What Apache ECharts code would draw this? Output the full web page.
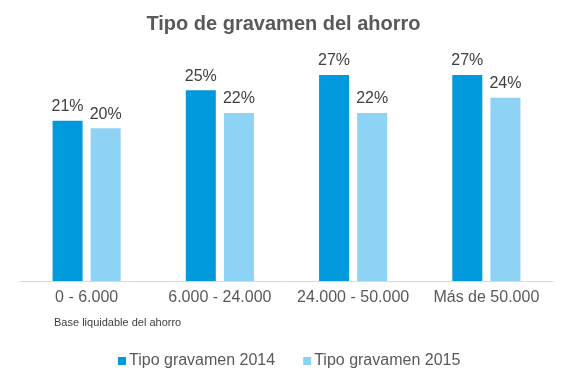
<!DOCTYPE html>
<html>
<head>
<meta charset="utf-8">
<script src="https://cdn.jsdelivr.net/npm/echarts@6/dist/echarts.min.js"></script>
<style>html,body{margin:0;padding:0;background:#fff;}#c{width:567px;height:379px;}</style>
</head>
<body>
<div id="c"></div>
<script>
var categories = ['0 - 6.000', '6.000 - 24.000', '24.000 - 50.000', 'Más de 50.000'];
var seriesNames = ['Tipo gravamen 2014', 'Tipo gravamen 2015'];
var values2014 = [21, 25, 27, 27];
var values2015 = [20, 22, 22, 24];

var chart = echarts.init(document.getElementById('c'));
var font = 'Liberation Sans, Arial, sans-serif';
chart.setOption({
  animation: false,
  backgroundColor: '#ffffff',
  title: [{
    text: 'Tipo de gravamen del ahorro',
    left: 'center',
    top: 9,
    textStyle: { fontFamily: font, fontSize: 20, fontWeight: 'bold', color: '#595959' }
  }, {
    text: 'Base liquidable del ahorro',
    left: 49,
    top: 312,
    textStyle: { fontFamily: font, fontSize: 11, fontWeight: 'normal', color: '#404040' }
  }],
  legend: {
    data: seriesNames,
    left: 113,
    top: 348,
    icon: 'rect',
    itemWidth: 8,
    itemHeight: 8,
    itemGap: 28,
    textStyle: { fontFamily: font, fontSize: 16, color: '#595959', padding: [0, 0, 0, -2] }
  },
  grid: { left: 20, right: 14, top: 52, bottom: 98 },
  xAxis: {
    type: 'category',
    data: categories,
    axisLine: { lineStyle: { color: '#D9D9D9', width: 1 } },
    axisTick: { show: false },
    axisLabel: { fontFamily: font, fontSize: 16, color: '#595959', margin: 9, interval: 0 }
  },
  yAxis: {
    type: 'value',
    min: 0,
    max: 30,
    show: false,
    splitLine: { show: false }
  },
  series: [{
    name: seriesNames[0],
    type: 'bar',
    data: values2014,
    barWidth: 30,
    barGap: '27%',
    itemStyle: { color: '#0099DC' },
    label: { show: true, position: 'top', distance: 6, formatter: '{c}%', fontFamily: font, fontSize: 16, color: '#404040' }
  }, {
    name: seriesNames[1],
    type: 'bar',
    data: values2015,
    barWidth: 30,
    itemStyle: { color: '#8ED2F5' },
    label: { show: true, position: 'top', distance: 6, formatter: '{c}%', fontFamily: font, fontSize: 16, color: '#404040' }
  }]
});
</script>
</body>
</html>
